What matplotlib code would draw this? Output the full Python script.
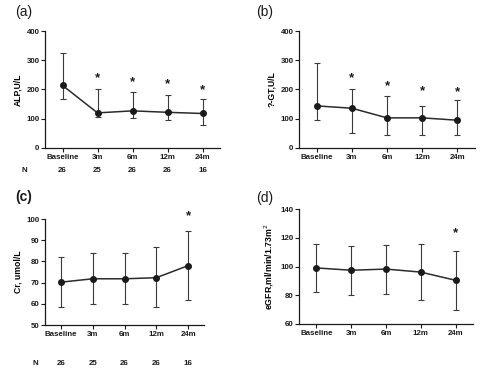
import matplotlib
matplotlib.use("Agg")
import matplotlib.pyplot as plt
import matplotlib.transforms as mtransforms

plt.rcParams["font.family"] = ["Liberation Sans", "DejaVu Sans"]

# ---- data ----
TIMEPOINTS = ["Baseline", "3m", "6m", "12m", "24m"]
N_COUNTS = [26, 25, 26, 26, 16]

ALP_MID = [214, 120, 127, 122, 118]
ALP_LOW = [167, 106, 103, 97, 80]
ALP_HIGH = [326, 200, 193, 181, 167]
ALP_STAR = [None, 238, 226, 217, 197]

GGT_MID = [144, 136, 103, 103, 95]
GGT_LOW = [97, 51, 46, 46, 46]
GGT_HIGH = [291, 200, 178, 144, 163]
GGT_STAR = [None, 238, 213, 194, 192]

CR_MID = [70.2, 71.8, 71.8, 72.3, 78.0]
CR_LOW = [58.4, 59.8, 59.8, 58.4, 61.9]
CR_HIGH = [82.1, 84.0, 83.8, 86.8, 94.2]
CR_STAR = [None, None, None, None, 101.5]

EGFR_MID = [99.0, 97.4, 98.2, 96.1, 90.4]
EGFR_LOW = [82.2, 80.3, 81.0, 76.4, 69.7]
EGFR_HIGH = [115.7, 114.6, 115.3, 115.7, 111.1]
EGFR_STAR = [None, None, None, None, 123.5]

W, H = 488, 371
fig = plt.figure(figsize=(W / 100, H / 100), dpi=100)
INK = "#1a1a1a"


def px_axes(left, right, top, bottom):
    return fig.add_axes([left / W, (H - bottom) / H, (right - left) / W, (bottom - top) / H])


def panel(ax, mid, low, high, stars, ylim, yticks, ylabel, ylabel_size=6.2):
    x = list(range(len(TIMEPOINTS)))
    yerr = [[m - l for m, l in zip(mid, low)], [h - m for m, h in zip(mid, high)]]
    ax.errorbar(x, mid, yerr=yerr, color="#2b2b2b", ecolor="#3a3a3a",
                elinewidth=0.8, capsize=2.2, capthick=0.8, lw=1.1,
                marker="o", ms=4, mfc=INK, mec=INK, zorder=3)
    for xi, s in zip(x, stars):
        if s is not None:
            ax.text(xi, s, "*", ha="center", va="center", fontsize=9.5,
                    fontweight="bold", color=INK)
    ax.set_xlim(-0.5, 4.5)
    ax.set_ylim(*ylim)
    ax.set_yticks(yticks)
    ax.set_xticks(x)
    ax.set_xticklabels(TIMEPOINTS)
    for side in ("top", "right"):
        ax.spines[side].set_visible(False)
    for side in ("left", "bottom"):
        ax.spines[side].set_linewidth(0.9)
        ax.spines[side].set_color(INK)
    ax.tick_params(axis="both", labelsize=5.7, width=0.8, length=3, pad=1,
                   colors=INK)
    for lab in ax.get_xticklabels() + ax.get_yticklabels():
        lab.set_fontweight("bold")
    ax.set_ylabel(ylabel, fontsize=ylabel_size, fontweight="bold", labelpad=3)


def n_row(ax, yfrac, xn):
    tr = mtransforms.blended_transform_factory(ax.transData, ax.transAxes)
    ax.text(xn, yfrac, "N", transform=tr, ha="center", va="center",
            fontsize=5.7, fontweight="bold", color=INK)
    for i, n in enumerate(N_COUNTS):
        ax.text(i, yfrac, str(n), transform=tr, ha="center", va="center",
                fontsize=5.7, fontweight="bold", color=INK)


ax_a = px_axes(45, 220, 31, 148)
panel(ax_a, ALP_MID, ALP_LOW, ALP_HIGH, ALP_STAR, (0, 400), [0, 100, 200, 300, 400], "ALP,U/L")
n_row(ax_a, -0.19, -1.1)

ax_b = px_axes(299, 475, 31, 148)
panel(ax_b, GGT_MID, GGT_LOW, GGT_HIGH, GGT_STAR, (0, 400), [0, 100, 200, 300, 400], "?-GT,U/L")

ax_c = px_axes(45, 204, 219, 325)
panel(ax_c, CR_MID, CR_LOW, CR_HIGH, CR_STAR, (50, 100), [50, 60, 70, 80, 90, 100], "Cr, umol/L")
n_row(ax_c, -0.36, -0.8)

ax_d = px_axes(299, 473, 209, 324)
panel(ax_d, EGFR_MID, EGFR_LOW, EGFR_HIGH, EGFR_STAR, (60, 140), [60, 80, 100, 120, 140],
      "eGFR,ml/min/1.73m$^2$", ylabel_size=6.3)

fig.text(15 / W, 1 - 12 / H, "(a)", fontsize=10, va="center", ha="left", color=INK)
fig.text(256 / W, 1 - 12 / H, "(b)", fontsize=10, va="center", ha="left", color=INK)
fig.text(15 / W, 1 - 197 / H, "(c)", fontsize=10, va="center", ha="left", color=INK,
         fontweight="bold")
fig.text(256 / W, 1 - 198 / H, "(d)", fontsize=10, va="center", ha="left", color=INK)

fig.savefig("out.png", dpi=100, facecolor="white")
